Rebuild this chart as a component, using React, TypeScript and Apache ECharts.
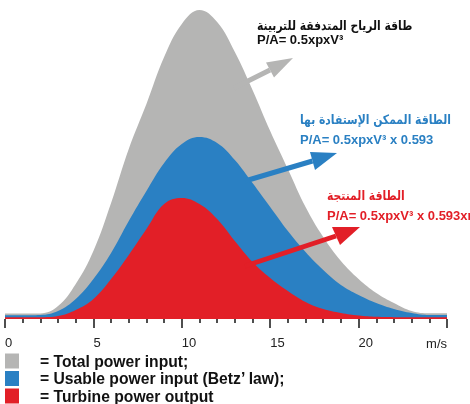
import React, { useEffect, useRef } from 'react';
import * as echarts from 'echarts';

// wind speed (m/s)
const windSpeeds = [0, 1, 2, 3, 4, 5, 6, 7, 8, 9, 10, 11, 12, 13, 14, 15, 16, 17, 18, 19, 20, 21, 22, 23, 24, 25];
// relative power density (arbitrary units)
const totalPower = [5.5, 5.5, 5.6, 13, 35, 68, 116, 170, 215, 262, 295, 309, 297, 267, 229, 188, 150, 112, 82, 58, 40, 26, 16, 8, 5.7, 5.7];
const usablePower = [3.7, 3.7, 4, 8, 20, 40, 66, 98, 128, 156, 175, 182, 176, 159, 136, 112, 88, 67, 49, 34, 24, 16, 10, 6, 4, 4];
const turbinePower = [1.7, 1.7, 1.8, 3, 9, 20, 40, 64, 90, 115, 121, 115, 100, 78, 57, 41, 28, 17, 10, 6, 3.5, 2.2, 1.8, 1.7, 1.7, 1.7];

const xTickLabels = ['0', '5', '10', '15', '20'];
const unitLabel = 'm/s';
const legendNames = ['= Total power input;', '= Usable power input (Betz\u2019 law);', '= Turbine power output'];
const seriesColors = ['#b5b5b4', '#2a80c3', '#e21f27'];

const arabicLabels = ['طاقة الرياح المتدفقة للتربينة', 'الطاقة الممكن الإستفادة بها', 'الطاقة المنتجة'];
const formulaLabels = ['P/A= 0.5xpxV\u00b3', 'P/A= 0.5xpxV\u00b3 x 0.593', 'P/A= 0.5xpxV\u00b3 x 0.593x\u03b7'];

export default function App() {
  const ref = useRef<HTMLDivElement>(null);
  useEffect(() => {
    const chart = echarts.init(ref.current!, null, { renderer: 'svg' });
    const seriesData = [totalPower, usablePower, turbinePower];

    const arrowDefs = [
      { color: seriesColors[0], start: [234, 88], base: [270, 70], tip: [293, 58], c1: [266, 62.5], c2: [274, 77.5] },
      { color: seriesColors[1], start: [245, 181], base: [312.5, 161], tip: [337, 153], c1: [310, 152], c2: [315, 170] },
      { color: seriesColors[2], start: [245, 266], base: [336, 236], tip: [360, 227], c1: [332, 227], c2: [340, 245] },
    ];
    const textPos = [
      { x: 257, ya: 26, yf: 39, color: '#111' },
      { x: 300, ya: 120, yf: 139.5, color: seriesColors[1] },
      { x: 327, ya: 196, yf: 215, color: seriesColors[2] },
    ];

    const graphic: any[] = [];
    arrowDefs.forEach((a) => {
      graphic.push({
        type: 'line', silent: true, z: 10,
        shape: { x1: a.start[0], y1: a.start[1], x2: a.base[0], y2: a.base[1] },
        style: { stroke: a.color, lineWidth: 5 },
      });
      graphic.push({
        type: 'polygon', silent: true, z: 10,
        shape: { points: [a.tip, a.c1, a.c2] },
        style: { fill: a.color },
      });
    });
    textPos.forEach((t, i) => {
      graphic.push({
        type: 'text', z: 11, x: t.x, y: t.ya, scaleX: 0.83,
        style: { text: arabicLabels[i], fill: t.color, font: 'bold 13px "DejaVu Sans"', textAlign: 'left', textVerticalAlign: 'middle' },
      });
      graphic.push({
        type: 'text', z: 11, x: t.x, y: t.yf,
        style: { text: formulaLabels[i], fill: t.color, font: 'bold 13px "Liberation Sans"', textAlign: 'left', textVerticalAlign: 'middle' },
      });
    });
    graphic.push({
      type: 'text', z: 11, x: 447, y: 343,
      style: { text: unitLabel, fill: '#222', font: '13px "Liberation Sans"', textAlign: 'right', textVerticalAlign: 'middle' },
    });

    chart.setOption({
      animation: false,
      grid: { left: 5, right: 23, top: 0, bottom: 85, containLabel: false },
      xAxis: {
        type: 'value', min: 0, max: 25, interval: 5, offset: 4,
        axisLine: { show: false },
        axisTick: { show: true, length: 9, lineStyle: { color: '#222', width: 1.6 } },
        minorTick: { show: true, splitNumber: 5, length: 4, lineStyle: { color: '#222', width: 1.6 } },
        splitLine: { show: false },
        minorSplitLine: { show: false },
        axisLabel: {
          align: 'left', margin: 13, fontSize: 13, color: '#222', fontFamily: 'Liberation Sans',
          formatter: (v: number) => xTickLabels[Math.round(v / 5)] ?? '',
        },
      },
      yAxis: { type: 'value', min: 0, max: 319, show: false },
      legend: {
        orient: 'vertical', left: 5, top: 353, height: 60, padding: 0, itemWidth: 14, itemHeight: 15, itemGap: 1.5,
        icon: 'rect', selectedMode: false, data: legendNames,
        itemStyle: { borderWidth: 0 },
        textStyle: { fontFamily: 'Liberation Sans', fontWeight: 'bold', fontSize: 15.7, color: '#111', padding: [0, 0, 0, 16], lineHeight: 12 },
      },
      series: seriesData.map((d, i) => ({
        name: legendNames[i],
        type: 'line',
        data: windSpeeds.map((s, j) => [s, d[j]]),
        smooth: 0.4,
        symbol: 'none',
        showSymbol: false,
        silent: true,
        z: 2 + i,
        itemStyle: { color: seriesColors[i] },
        lineStyle: { width: 0, color: seriesColors[i] },
        areaStyle: { color: seriesColors[i], opacity: 1 },
      })),
      graphic,
    });
    return () => chart.dispose();
  }, []);
  return <div ref={ref} style={{ position: 'fixed', left: 0, top: 0, width: 470, height: 404 }} />;
}
